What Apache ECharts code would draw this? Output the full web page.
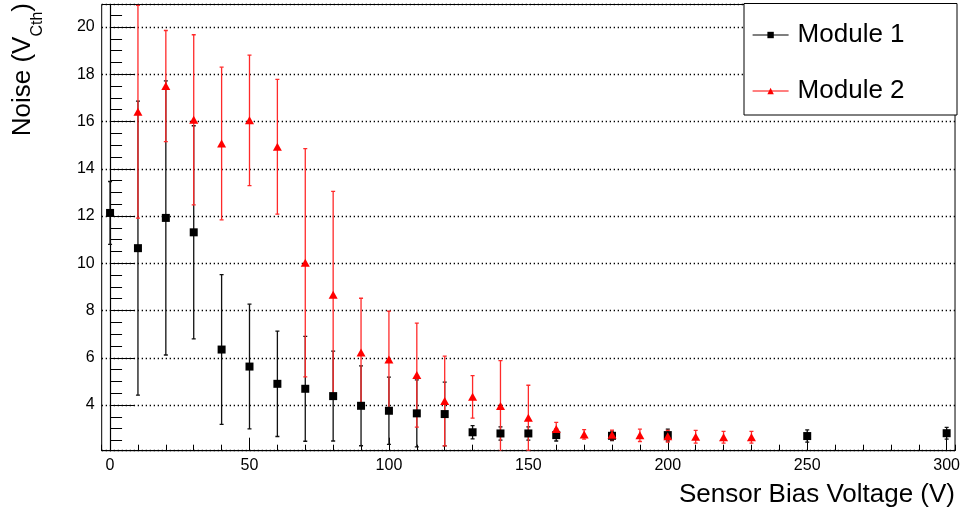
<!DOCTYPE html>
<html>
<head>
<meta charset="utf-8">
<script src="https://cdn.jsdelivr.net/npm/echarts@6/dist/echarts.min.js"></script>
<style>
  html, body { margin: 0; padding: 0; background: #fff; }
  #chart { width: 963px; height: 511px; }
</style>
</head>
<body>
<div id="chart"></div>
<script>
// Module 1 (black squares)
const m1Bias = [0, 10, 20, 30, 40, 50, 60, 70, 80, 90, 100, 110, 120, 130, 140, 150, 160, 180, 200, 250, 300];
const m1Noise = [12.13, 10.64, 11.92, 11.31, 6.35, 5.63, 4.90, 4.69, 4.38, 3.97, 3.76, 3.65, 3.62, 2.85, 2.80, 2.80, 2.73, 2.70, 2.73, 2.69, 2.81];
const m1Err = [1.33, 6.22, 5.80, 4.51, 3.17, 2.64, 2.23, 2.22, 1.90, 1.69, 1.42, 1.42, 1.35, 0.28, 0.28, 0.28, 0.25, 0.20, 0.25, 0.26, 0.25];

// Module 2 (red triangles)
const m2Bias = [10, 20, 30, 40, 50, 60, 70, 80, 90, 100, 110, 120, 130, 140, 150, 160, 170, 180, 190, 200, 210, 220, 230];
const m2Noise = [16.41, 17.50, 16.07, 15.07, 16.05, 14.93, 10.02, 8.67, 6.22, 5.93, 5.27, 4.17, 4.35, 3.96, 3.46, 2.99, 2.76, 2.74, 2.72, 2.68, 2.66, 2.64, 2.64];
const m2Err = [4.50, 2.35, 3.60, 3.23, 2.76, 2.85, 4.83, 4.37, 2.30, 2.05, 2.20, 1.90, 0.90, 1.92, 1.38, 0.28, 0.20, 0.20, 0.26, 0.25, 0.27, 0.25, 0.25];

const xRange = [-3, 303];
const yRange = [2.07, 20.95];

const FONT = 'Liberation Sans, Arial, Helvetica, sans-serif';

function zip(xs, ys, es) {
    return xs.map((x, i) => es ? [x, ys[i], es[i]] : [x, ys[i]]);
}

function errorBars(color) {
    return function (params, api) {
        const x = api.value(0), y = api.value(1), e = api.value(2);
        const top = api.coord([x, y + e]);
        const bot = api.coord([x, y - e]);
        const w = 2;
        const style = { stroke: color, lineWidth: 1.3 };
        return {
            type: 'group',
            children: [
                { type: 'line', shape: { x1: top[0], y1: top[1], x2: bot[0], y2: bot[1] }, style: style },
                { type: 'line', shape: { x1: top[0] - w, y1: top[1], x2: top[0] + w, y2: top[1] }, style: style },
                { type: 'line', shape: { x1: bot[0] - w, y1: bot[1], x2: bot[0] + w, y2: bot[1] }, style: style }
            ]
        };
    };
}

const chart = echarts.init(document.getElementById('chart'));

let option = {
    animation: false,
    backgroundColor: '#fff',
    textStyle: { fontFamily: FONT },
    grid: {
        left: 101.7, right: 5.3, top: 3.3, bottom: 60.3,
        show: true, borderColor: '#000', borderWidth: 1, backgroundColor: 'transparent'
    },
    graphic: [{
        type: 'rect', z: 3,
        shape: { x: 744, y: 3.5, width: 213, height: 111.5 },
        style: { fill: '#fff', stroke: '#000', lineWidth: 1 }
    }],
    legend: {
        z: 10,
        left: 747, top: 15,
        orient: 'vertical',
        itemWidth: 36, itemHeight: 8, itemGap: 26,
        textStyle: { fontSize: 26, color: '#000', fontFamily: FONT, lineHeight: 30, padding: [0, 0, 0, 4] },
        lineStyle: { opacity: 1, width: 1.2 },
        data: ['Module 1', 'Module 2']
    },
    xAxis: [{
        type: 'value', position: 'bottom',
        min: xRange[0], max: xRange[1], splitNumber: 6,
        name: 'Sensor Bias Voltage (V)', nameLocation: 'end', nameGap: 0,
        nameTextStyle: { fontSize: 26, color: '#000', align: 'right', verticalAlign: 'top', padding: [31, 0, 0, 0] },
        axisLine: { lineStyle: { color: '#000', width: 1.2 } },
        axisTick: { inside: true, length: 13, lineStyle: { color: '#000' } },
        axisLabel: { fontSize: 16, color: '#000', margin: 7, showMinLabel: false, showMaxLabel: false },
        splitLine: { show: false }
    }, {
        type: 'value', position: 'bottom',
        min: xRange[0], max: xRange[1], splitNumber: 30,
        axisLine: { show: false },
        axisTick: { inside: true, length: 6, lineStyle: { color: '#000' } },
        axisLabel: { show: false },
        splitLine: { show: false }
    }],
    yAxis: [{
        type: 'value', position: 'left',
        min: yRange[0], max: yRange[1], splitNumber: 9,
        name: '{a|Noise (V}{b|Cth}{a|)}', nameLocation: 'end', nameGap: 1.5, nameRotate: 90,
        nameTextStyle: {
            color: '#000', align: 'right', verticalAlign: 'bottom', padding: [0, 0, 64, 0],
            rich: {
                a: { fontSize: 26, color: '#000', fontFamily: FONT, lineHeight: 30 },
                b: { fontSize: 16, color: '#000', fontFamily: FONT, padding: [30, 0, 0, 0] }
            }
        },
        axisLine: { show: true, lineStyle: { color: '#000', width: 1.2 } },
        axisTick: { inside: true, length: 25, lineStyle: { color: '#000' } },
        axisLabel: { fontSize: 16, color: '#000', margin: 7, showMinLabel: false, showMaxLabel: false },
        splitLine: { show: true, lineStyle: { color: '#000', width: 1.3, type: [1.3, 2.7] } }
    }, {
        type: 'value', position: 'left',
        min: yRange[0], max: yRange[1], splitNumber: 38,
        axisLine: { show: false },
        axisTick: { inside: true, length: 12, lineStyle: { color: '#000' } },
        axisLabel: { show: false },
        splitLine: { show: false }
    }],
    series: [{
        type: 'custom', name: 'Module 1 errors', clip: true,
        renderItem: errorBars('#111'),
        encode: { x: 0, y: 1 },
        data: zip(m1Bias, m1Noise, m1Err)
    }, {
        type: 'line', name: 'Module 1',
        symbol: 'rect', symbolSize: 8,
        itemStyle: { color: '#000' },
        lineStyle: { color: '#000', opacity: 0 },
        data: zip(m1Bias, m1Noise)
    }, {
        type: 'custom', name: 'Module 2 errors', clip: true,
        renderItem: errorBars('#ff2a2a'),
        encode: { x: 0, y: 1 },
        data: zip(m2Bias, m2Noise, m2Err)
    }, {
        type: 'line', name: 'Module 2',
        symbol: 'triangle', symbolSize: [9, 8],
        itemStyle: { color: '#ff0000' },
        lineStyle: { color: '#ff0000', opacity: 0 },
        data: zip(m2Bias, m2Noise)
    }]
};

chart.setOption(option);
</script>
</body>
</html>
